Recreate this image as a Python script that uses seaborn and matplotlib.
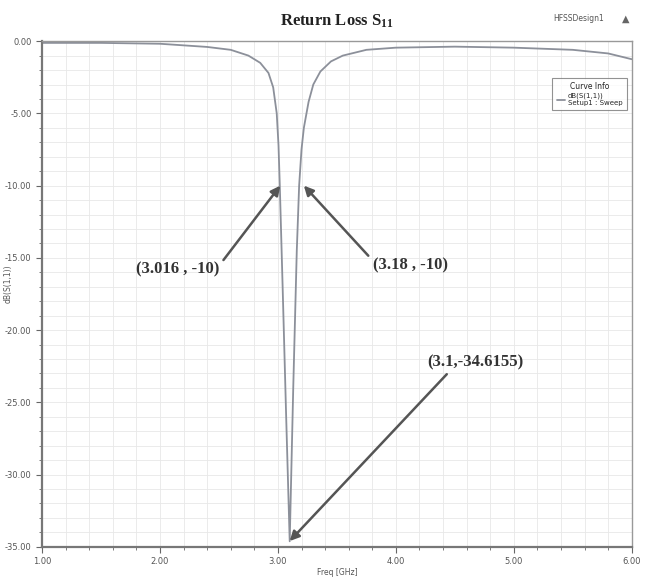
import seaborn as sns
import pandas as pd
import numpy as np
import matplotlib.pyplot as plt
from matplotlib.ticker import MultipleLocator, FormatStrFormatter

sns.set_theme(style='white')
plt.rcParams['mathtext.fontset'] = 'custom'
plt.rcParams['mathtext.rm'] = 'Liberation Serif:bold'
plt.rcParams['mathtext.it'] = 'Liberation Serif:bold'

# S11 curve
freq_ghz = [1.0, 1.5, 2.0, 2.4, 2.6, 2.75, 2.85, 2.92, 2.96, 2.99, 3.005,
            3.016, 3.04, 3.07, 3.1, 3.13, 3.16, 3.18, 3.2, 3.22, 3.26,
            3.3, 3.36, 3.45, 3.55, 3.75, 4.0, 4.5, 5.0, 5.5, 5.8, 6.0]
s11_db = [-0.12, -0.12, -0.18, -0.4, -0.6, -1.0, -1.5, -2.2, -3.2, -5.0, -7.2,
          -10.0, -17.0, -26.0, -34.6155, -24.0, -14.5, -10.0, -7.5, -6.0, -4.2,
          -3.0, -2.1, -1.4, -1.0, -0.6, -0.45, -0.38, -0.45, -0.6, -0.85, -1.25]

# annotation labels and the points they mark
ann_labels = ['(3.016 , -10)', '(3.18 , -10)', '(3.1,-34.6155)']
ann_points = [(3.02, -10.0), (3.22, -10.0), (3.1, -34.6)]
ann_text_pos = [(2.15, -15.8), (4.12, -15.5), (4.67, -22.2)]
ann_relpos = [(1.0, 0.75), (0.0, 0.8), (0.25, 0.0)]

df = pd.DataFrame({'Freq [GHz]': freq_ghz, 'dB(S(1,1))': s11_db})

fig = plt.figure(figsize=(6.46, 5.88), dpi=100)
ax = fig.add_axes([0.065, 0.07, 0.913, 0.86])

sns.lineplot(x='Freq [GHz]', y='dB(S(1,1))', data=df, ax=ax, color='#8c909a',
             linewidth=1.3, label='dB(S(1,1))\nSetup1 : Sweep')

ax.set_xlim(1, 6)
ax.set_ylim(-35, 0)
ax.xaxis.set_major_locator(MultipleLocator(1))
ax.xaxis.set_minor_locator(MultipleLocator(0.2))
ax.yaxis.set_major_locator(MultipleLocator(5))
ax.yaxis.set_minor_locator(MultipleLocator(1))
ax.xaxis.set_major_formatter(FormatStrFormatter('%.2f'))
ax.yaxis.set_major_formatter(FormatStrFormatter('%.2f'))
ax.grid(True, which='both', color='#e8e8e8', linewidth=0.6)
ax.tick_params(which='both', bottom=True, left=True, direction='out',
               labelsize=6, labelcolor='#555555', color='#666666')
ax.tick_params(which='major', length=4, width=0.8)
ax.tick_params(which='minor', length=2, width=0.6)
for side in ['left', 'bottom']:
    ax.spines[side].set_color('#777777')
    ax.spines[side].set_linewidth(1.6)
for side in ['top', 'right']:
    ax.spines[side].set_color('#999999')
    ax.spines[side].set_linewidth(1.0)

ax.set_xlabel('Freq [GHz]', fontsize=5.5, color='#555555', labelpad=1)
ax.set_ylabel('dB(S(1,1))', fontsize=5.5, color='#555555')
ax.yaxis.set_label_coords(-0.05, 0.52)

ax.set_title('Return Loss S$_{11}$', fontsize=12, fontweight='bold',
             family='Liberation Serif', color='#222222', pad=11)
fig.text(0.935, 0.968, 'HFSSDesign1', fontsize=5.5, color='#555555',
         ha='right', va='center')
fig.text(0.968, 0.968, '\u25b2', fontsize=7, color='#666666',
         ha='center', va='center')

leg = ax.legend(title='Curve Info', loc='upper right', fontsize=5,
                title_fontsize=5.5, frameon=True, fancybox=False,
                bbox_to_anchor=(0.997, 0.935), handlelength=1.2,
                borderpad=0.6, labelspacing=0.3, handletextpad=0.4)
leg.get_frame().set_edgecolor('#777777')
leg.get_frame().set_linewidth(0.8)

for label, pt, tp, rp in zip(ann_labels, ann_points, ann_text_pos, ann_relpos):
    ax.annotate(label, xy=pt, xytext=tp, ha='center', va='center',
                fontsize=12, fontweight='bold', family='Liberation Serif',
                color='#333333',
                arrowprops=dict(arrowstyle='-|>', color='#555555', lw=1.8,
                                mutation_scale=14, shrinkA=1, shrinkB=0,
                                relpos=rp))

fig.savefig('out.png', dpi=100)
